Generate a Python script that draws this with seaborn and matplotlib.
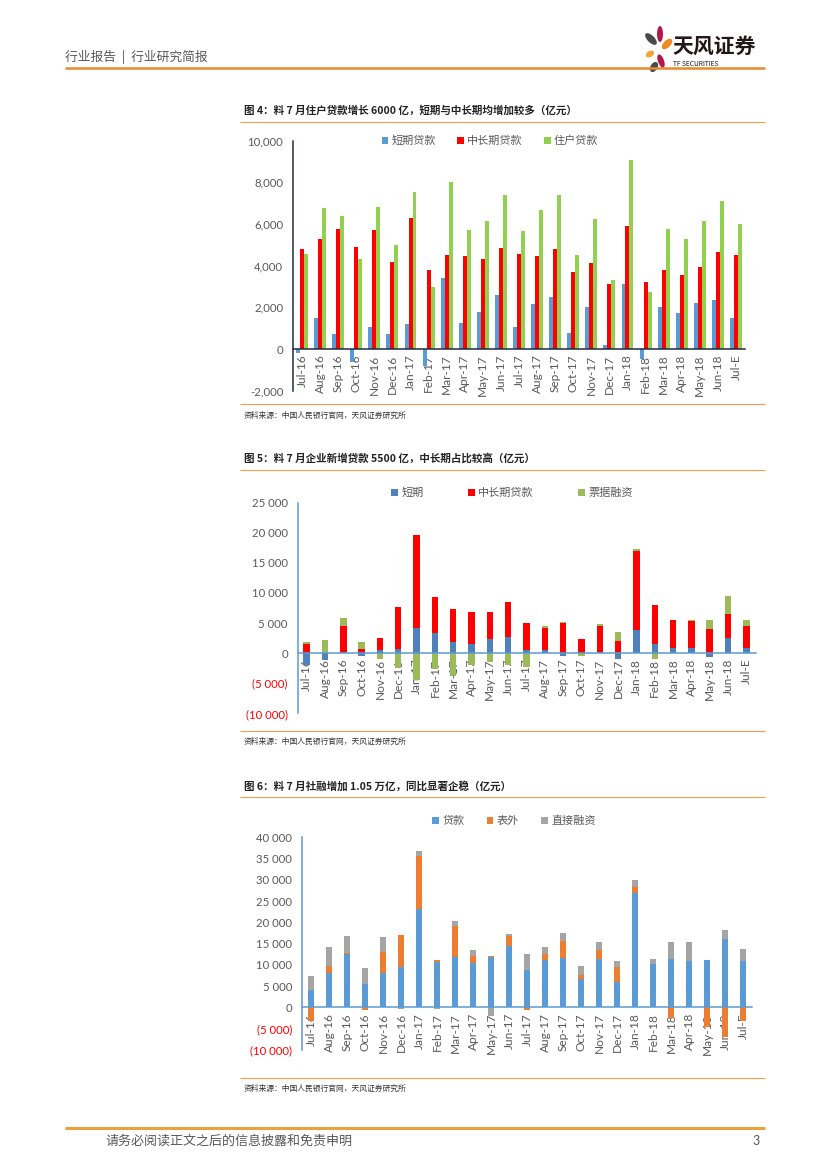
import matplotlib
matplotlib.use("Agg")
import matplotlib.pyplot as plt
from matplotlib.patches import Patch, Ellipse
import numpy as np
import pandas as pd
import seaborn as sns

# ---- data (亿元) ----
months = ["Jul-16", "Aug-16", "Sep-16", "Oct-16", "Nov-16", "Dec-16",
          "Jan-17", "Feb-17", "Mar-17", "Apr-17", "May-17", "Jun-17",
          "Jul-17", "Aug-17", "Sep-17", "Oct-17", "Nov-17", "Dec-17",
          "Jan-18", "Feb-18", "Mar-18", "Apr-18", "May-18", "Jun-18", "Jul-E"]

# 图4 住户贷款
hh_short = [-200, 1470, 700, -600, 1080, 700, 1200, -800, 3430, 1270, 1780, 2590,
            1060, 2160, 2520, 780, 2020, 190, 3100, -500, 2020, 1730, 2200, 2350, 1500]
hh_mid = [4800, 5300, 5750, 4900, 5700, 4200, 6300, 3800, 4500, 4450, 4300, 4850,
          4550, 4450, 4800, 3700, 4150, 3100, 5900, 3200, 3780, 3550, 3920, 4670, 4500]
hh_total = [4550, 6770, 6400, 4300, 6815, 5000, 7535, 3000, 8015, 5725, 6125, 7405,
            5645, 6655, 7375, 4500, 6220, 3300, 9055, 2750, 5760, 5295, 6160, 7085, 6015]

# 图5 企业新增贷款
corp_short = [-2000, -1200, 150, -400, 450, 720, 4170, 3400, 1900, 1450, 2400, 2670,
              550, 600, -500, 100, 200, -1050, 3780, 1450, 780, 780, -650, 2550, 830]
corp_mid = [1450, 0, 4300, 650, 2000, 7000, 15400, 6000, 5500, 5350, 4500, 5830,
            4400, 3650, 5050, 2300, 4250, 1950, 13200, 6500, 4670, 4550, 4000, 3950, 3620]
corp_bill = [330, 2200, 1450, 1150, -1050, -2500, -4400, -2600, -3800, -2000, -1500, -1900,
             -2300, 330, 50, -450, 370, 1500, 400, -900, 50, 100, 1450, 3050, 1050]

# 图6 社融
sf_loan = [4000, 8100, 12450, 5600, 8100, 9450, 23100, 10700, 11800, 10500, 11900, 14550,
           8900, 11100, 11700, 6700, 11500, 5900, 26850, 10250, 11400, 10900, 11250, 16100, 11000]
sf_offbs = [-3100, 1750, 350, -500, 4900, 7500, 12500, 550, 7450, 1700, 150, 2350,
            -600, 1500, 3900, 950, 1900, 3550, 1350, 0, -2500, 0, -4500, -6850, -3200]
sf_direct = [3500, 4400, 4000, 3700, 3600, -400, 1100, -300, 1100, 1400, -2100, 300,
             3550, 1650, 1800, 2200, 1950, 1450, 1800, 1150, 4000, 4450, 0, 2100, 2800]

sns.set_style("white")
plt.rcParams["font.family"] = ["Lato", "Noto Sans CJK SC", "DejaVu Sans"]
CJK = ["Noto Sans CJK SC", "DejaVu Sans"]
GREY = "#595959"

W, H = 827, 1169
fig = plt.figure(figsize=(W / 100, H / 100), dpi=100)

# page layer in pixel coordinates
page = fig.add_axes([0, 0, 1, 1])
page.set_xlim(0, W)
page.set_ylim(H, 0)
page.axis("off")


def rect(x0, y_bottom, w, h):
    return [x0 / W, 1 - y_bottom / H, w / W, h / H]


def hline(y, x0=240, x1=765, color="#F0A04B", lw=0.8):
    page.plot([x0, x1], [y, y], color=color, lw=lw, solid_capstyle="butt")


# header
page.text(65, 57, "行业报告  |  行业研究简报", fontsize=9.2, color=GREY, va="center", family=CJK)
hline(68, 65, 765, color="#E8892E", lw=1.8)
for (cx, cy, w, h, a, c) in [(651, 39, 7, 15, -45, "#4A4A4A"), (660, 34, 6, 16, 0, "#B3184A"),
                              (667, 44, 7, 13, 45, "#EF8A1E"), (650, 54, 6, 9, 60, "#F2A33A"),
                              (661, 61, 6, 14, -20, "#B3184A"), (654, 67, 7, 11, 30, "#4A4A4A")]:
    page.add_patch(Ellipse((cx, cy), w, h, angle=a, color=c, lw=0))
page.text(672, 46, "天风证券", fontsize=15, fontweight="bold", color="#231815", va="center", family=CJK)
page.text(673, 64, "TF SECURITIES", fontsize=4.8, color="#231815", va="center", family=CJK)

# footer
hline(1128, 65, 765, color="#E8A33D", lw=2.2)
page.text(105, 1141, "请务必阅读正文之后的信息披露和免责申明", fontsize=9.4, color=GREY, va="center", family=CJK)
page.text(752, 1141, "3", fontsize=9, color=GREY, va="center")

# chart frames
titles = [(110, 122, 404, 416, "图 4：料 7 月住户贷款增长 6000 亿，短期与中长期均增加较多（亿元）"),
          (458, 470, 731, 742, "图 5：料 7 月企业新增贷款 5500 亿，中长期占比较高（亿元）"),
          (786, 797, 1078, 1089, "图 6：料 7 月社融增加 1.05 万亿，同比显著企稳（亿元）")]
for ty, ly, by, sy, t in titles:
    page.text(244, ty, t, fontsize=7.6, fontweight="bold", color="#222222", va="center", family=CJK)
    hline(ly)
    hline(by)
    page.text(244, sy, "资料来源：中国人民银行官网，天风证券研究所", fontsize=5.6, color="#333333",
              va="center", family=CJK)


def style_axis(ax, ylim, step, axis_color, paren=False):
    n = len(months)
    ax.set_xlim(-0.5, n - 0.5)
    ax.set_ylim(*ylim)
    ticks = np.arange(ylim[0], ylim[1] + 1, step)
    if paren:
        labels = [f"{t:,.0f}".replace(",", " ") if t >= 0 else f"({-t:,.0f})".replace(",", " ")
                  for t in ticks]
    else:
        labels = [f"{t:,.0f}" for t in ticks]
    ax.set_yticks(ticks, labels)
    if paren:
        for t, lab in zip(ticks, ax.get_yticklabels()):
            lab.set_color("#FF0000" if t < 0 else GREY)
    ax.spines[["top", "right"]].set_visible(False)
    ax.spines["bottom"].set_position(("data", 0))
    for s in ("left", "bottom"):
        ax.spines[s].set_color(axis_color)
        ax.spines[s].set_linewidth(1.1)
    ax.set_xticks(range(n), months, rotation=90)
    ax.set_xticks(np.arange(-0.5, n), minor=True)
    ax.tick_params(axis="x", which="major", length=0, pad=4, labelsize=8.6, labelcolor=GREY)
    ax.tick_params(axis="x", which="minor", length=4, width=1, color=axis_color, direction="out")
    ax.tick_params(axis="y", length=4, width=1, color=axis_color, direction="out", labelsize=8.2, pad=3)
    if not paren:
        ax.tick_params(axis="y", labelcolor=GREY)
    ax.set_xlabel("")
    ax.set_ylabel("")
    ax.patch.set_alpha(0)


def add_legend(names, colors, x, y, spacing):
    handles = [Patch(facecolor=c, edgecolor="none") for c in colors]
    fig.legend(handles, names, loc="center", bbox_to_anchor=(x / W, 1 - y / H), ncol=3,
               frameon=False, handlelength=0.6, handleheight=0.6, handletextpad=0.3,
               columnspacing=spacing, labelcolor=GREY, prop={"family": CJK, "size": 8})


def stacked(ax, series, colors, width):
    pos = np.zeros(len(months))
    neg = np.zeros(len(months))
    layers = []
    for vals, c in zip(series, colors):
        v = np.asarray(vals, dtype=float)
        pos = pos + np.clip(v, 0, None)
        neg = neg + np.clip(v, None, 0)
        layers.append((pos.copy(), neg.copy(), c))
    # draw outermost first so inner segments overdraw it
    for p, q, c in reversed(layers):
        for h in (p, q):
            sns.barplot(x=months, y=h, order=months, color=c, width=width, saturation=1,
                        errorbar=None, linewidth=0, ax=ax)


# ---- 图4 grouped bars ----
names1 = ["短期贷款", "中长期贷款", "住户贷款"]
colors1 = ["#5B9BD5", "#FF0000", "#92D050"]
df1 = pd.DataFrame({"月份": months, names1[0]: hh_short, names1[1]: hh_mid, names1[2]: hh_total})
df1 = df1.melt(id_vars="月份", var_name="类别", value_name="亿元")
ax1 = fig.add_axes(rect(293, 390.7, 452, 250))
sns.barplot(data=df1, x="月份", y="亿元", hue="类别", order=months, hue_order=names1,
            palette=colors1, width=0.66, gap=0, saturation=1, linewidth=0, errorbar=None,
            legend=False, ax=ax1)
style_axis(ax1, (-2000, 10000), 2000, "#1F2A44")
add_legend(names1, colors1, 490, 141, 1.9)

# ---- 图5 stacked ----
names2 = ["短期", "中长期贷款", "票据融资"]
colors2 = ["#4F81BD", "#FF0000", "#9BBB59"]
ax2 = fig.add_axes(rect(297.5, 713.3, 458, 210.6))
stacked(ax2, [corp_short, corp_mid, corp_bill], colors2, 0.35)
style_axis(ax2, (-10000, 25000), 5000, "#5B9BD5", paren=True)
add_legend(names2, colors2, 512, 493, 4.0)

# ---- 图6 stacked ----
names3 = ["贷款", "表外", "直接融资"]
colors3 = ["#5B9BD5", "#ED7D31", "#A5A5A5"]
ax3 = fig.add_axes(rect(302, 1050, 450, 212.7))
stacked(ax3, [sf_loan, sf_offbs, sf_direct], colors3, 0.38)
style_axis(ax3, (-10000, 40000), 5000, "#5B9BD5", paren=True)
add_legend(names3, colors3, 514, 821, 2.0)

fig.savefig("out.png", dpi=100)
